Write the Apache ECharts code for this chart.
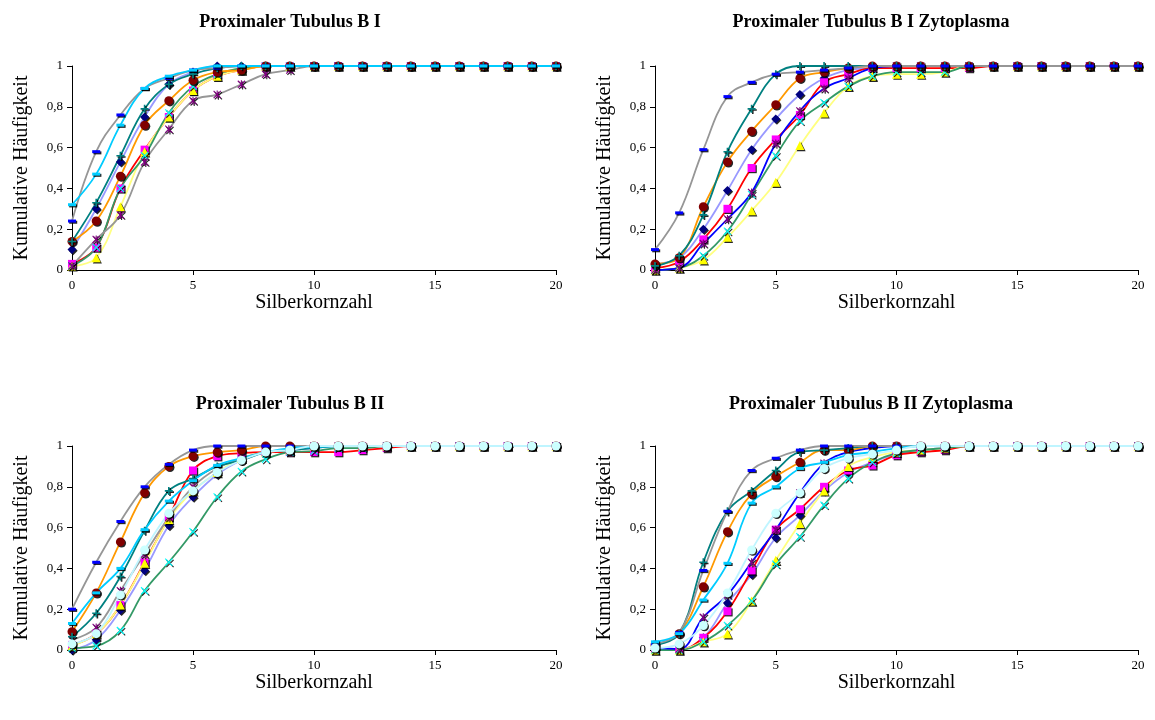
<!DOCTYPE html>
<html>
<head>
<meta charset="utf-8">
<script src="https://cdn.jsdelivr.net/npm/echarts@6/dist/echarts.min.js"></script>
<style>html,body{margin:0;padding:0;background:#fff}#c{width:1155px;height:720px}</style>
</head>
<body>
<div id="c"></div>
<script>
const xValues = [0,1,2,3,4,5,6,7,8,9,10,11,12,13,14,15,16,17,18,19,20];
const panelTitles = ['Proximaler Tubulus B I','Proximaler Tubulus B I Zytoplasma','Proximaler Tubulus B II','Proximaler Tubulus B II Zytoplasma'];
const xAxisName = 'Silberkornzahl';
const yAxisName = 'Kumulative Häufigkeit';
const xTicks = [0,5,10,15,20];
const yTicks = [0,0.2,0.4,0.6,0.8,1];

// Panel 1: Proximaler Tubulus B I
const bI_diamond  = [0.10,0.30,0.53,0.75,0.91,0.97,1,1,1,1,1,1,1,1,1,1,1,1,1,1,1];
const bI_square   = [0.03,0.11,0.40,0.59,0.75,0.88,0.95,0.98,1,1,1,1,1,1,1,1,1,1,1,1,1];
const bI_triangle = [0.02,0.06,0.31,0.58,0.75,0.88,0.95,0.98,1,1,1,1,1,1,1,1,1,1,1,1,1];
const bI_cross    = [0.02,0.11,0.40,0.56,0.77,0.90,0.96,0.99,1,1,1,1,1,1,1,1,1,1,1,1,1];
const bI_star     = [0.02,0.15,0.27,0.53,0.69,0.83,0.86,0.91,0.96,0.98,1,1,1,1,1,1,1,1,1,1,1];
const bI_circle   = [0.14,0.24,0.46,0.71,0.83,0.93,0.97,0.98,1,1,1,1,1,1,1,1,1,1,1,1,1];
const bI_plus     = [0.14,0.33,0.56,0.79,0.91,0.96,0.99,1,1,1,1,1,1,1,1,1,1,1,1,1,1];
const bI_dash     = [0.24,0.58,0.76,0.89,0.94,0.98,0.99,1,1,1,1,1,1,1,1,1,1,1,1,1,1];
const bI_cyanDash = [0.32,0.47,0.71,0.89,0.95,0.98,1,1,1,1,1,1,1,1,1,1,1,1,1,1,1];

// Panel 2: Proximaler Tubulus B I Zytoplasma
const bIZ_diamond  = [0.03,0.06,0.20,0.39,0.59,0.74,0.86,0.94,0.98,0.99,1,1,1,1,1,1,1,1,1,1,1];
const bIZ_square   = [0.01,0.04,0.15,0.30,0.50,0.64,0.76,0.92,0.96,0.99,0.99,0.99,0.99,0.99,1,1,1,1,1,1,1];
const bIZ_triangle = [0,0.01,0.05,0.16,0.29,0.43,0.61,0.77,0.90,0.95,0.96,0.96,0.97,1,1,1,1,1,1,1,1];
const bIZ_cross    = [0,0.01,0.07,0.19,0.37,0.56,0.73,0.82,0.90,0.95,0.97,0.97,0.97,1,1,1,1,1,1,1,1];
const bIZ_star     = [0,0.01,0.13,0.25,0.38,0.62,0.78,0.89,0.94,0.99,1,1,1,1,1,1,1,1,1,1,1];
const bIZ_circle   = [0.03,0.06,0.31,0.53,0.68,0.81,0.94,0.97,0.99,1,1,1,1,1,1,1,1,1,1,1,1];
const bIZ_plus     = [0.02,0.07,0.27,0.58,0.79,0.96,1,1,1,1,1,1,1,1,1,1,1,1,1,1,1];
const bIZ_dash     = [0.10,0.28,0.59,0.85,0.92,0.96,0.97,0.98,0.99,1,1,1,1,1,1,1,1,1,1,1,1];

// Panel 3: Proximaler Tubulus B II
const bII_diamond     = [0,0.05,0.195,0.39,0.61,0.75,0.86,0.93,0.97,0.98,0.99,1,1,1,1,1,1,1,1,1,1];
const bII_square      = [0.025,0.08,0.22,0.43,0.65,0.88,0.95,0.965,0.97,0.97,0.97,0.97,0.98,0.99,1,1,1,1,1,1,1];
const bII_triangle    = [0.02,0.08,0.22,0.425,0.64,0.78,0.87,0.94,0.97,0.98,1,1,1,1,1,1,1,1,1,1,1];
const bII_cross       = [0.01,0.02,0.095,0.29,0.43,0.58,0.75,0.875,0.935,0.97,0.975,0.99,0.99,1,1,1,1,1,1,1,1];
const bII_star        = [0.05,0.11,0.29,0.47,0.65,0.80,0.89,0.94,0.97,0.98,1,1,1,1,1,1,1,1,1,1,1];
const bII_circle      = [0.09,0.28,0.53,0.77,0.90,0.95,0.97,0.98,1,1,1,1,1,1,1,1,1,1,1,1,1];
const bII_plus        = [0.065,0.18,0.36,0.585,0.78,0.84,0.90,0.93,0.97,0.98,0.99,1,1,1,1,1,1,1,1,1,1];
const bII_dash        = [0.20,0.43,0.63,0.80,0.91,0.98,1,1,1,1,1,1,1,1,1,1,1,1,1,1,1];
const bII_cyanDash    = [0.13,0.28,0.40,0.59,0.73,0.83,0.905,0.94,0.97,0.99,0.995,1,1,1,1,1,1,1,1,1,1];
const bII_lightCircle = [0.03,0.08,0.27,0.49,0.67,0.78,0.87,0.93,0.97,0.98,1,1,1,1,1,1,1,1,1,1,1];

// Panel 4: Proximaler Tubulus B II Zytoplasma
const bIIZ_diamond     = [0.005,0.005,0.06,0.23,0.37,0.55,0.66,0.78,0.87,0.92,0.96,0.98,0.99,1,1,1,1,1,1,1,1];
const bIIZ_square      = [0,0,0.06,0.19,0.39,0.59,0.69,0.80,0.88,0.905,0.955,0.97,0.98,1,1,1,1,1,1,1,1];
const bIIZ_triangle    = [0,0,0.04,0.08,0.24,0.44,0.62,0.78,0.90,0.945,0.97,0.98,0.99,1,1,1,1,1,1,1,1];
const bIIZ_cross       = [0,0,0.04,0.12,0.24,0.42,0.555,0.71,0.84,0.92,0.965,0.98,0.99,1,1,1,1,1,1,1,1];
const bIIZ_star        = [0.01,0.005,0.16,0.27,0.43,0.59,0.77,0.915,0.97,0.99,1,1,1,1,1,1,1,1,1,1,1];
const bIIZ_circle      = [0.025,0.08,0.31,0.58,0.765,0.85,0.92,0.98,0.98,1,1,1,1,1,1,1,1,1,1,1,1];
const bIIZ_plus        = [0.025,0.08,0.43,0.68,0.78,0.88,0.97,0.98,0.99,1,1,1,1,1,1,1,1,1,1,1,1];
const bIIZ_dash        = [0.03,0.085,0.39,0.68,0.88,0.94,0.98,1,1,1,1,1,1,1,1,1,1,1,1,1,1];
const bIIZ_cyanDash    = [0.04,0.08,0.245,0.425,0.72,0.80,0.89,0.92,0.955,0.97,0.99,1,1,1,1,1,1,1,1,1,1];
const bIIZ_lightCircle = [0.01,0.03,0.12,0.28,0.49,0.67,0.77,0.89,0.94,0.96,0.98,1,1,1,1,1,1,1,1,1,1];

// marker styles
const xPath = 'path://M0,1 L1,0 L5,4 L9,0 L10,1 L6,5 L10,9 L9,10 L5,6 L1,10 L0,9 L4,5 Z';
const plusPath = 'path://M4,0 L6,0 L6,4 L10,4 L10,6 L6,6 L6,10 L4,10 L4,6 L0,6 L0,4 L4,4 Z';
const starPath = 'path://M0,1 L1,0 L4.3,3.3 L4.3,0 L5.7,0 L5.7,3.3 L9,0 L10,1 L6,5 L10,9 L9,10 L5.7,6.7 L5.7,10 L4.3,10 L4.3,6.7 L1,10 L0,9 L4,5 Z';
const markers = {
  diamond:     {symbol:'diamond', size:9, color:'#000080', line:'#9999FF'},
  square:      {symbol:'rect', size:8, color:'#FF00FF', line:'#FF0000'},
  triangle:    {symbol:'triangle', size:9, color:'#FFFF00', line:'#FFFF80'},
  cross:       {symbol:xPath, size:8, color:'#00FFFF', line:'#339966'},
  star:        {symbol:starPath, size:8, color:'#800080', line:'#969696'},
  circle:      {symbol:'circle', size:9, color:'#800000', line:'#FF9900'},
  plus:        {symbol:plusPath, size:8, color:'#008080', line:'#008080'},
  dash:        {symbol:'rect', size:[8,3], color:'#0000FF', line:'#969696'},
  cyanDash:    {symbol:'rect', size:[8,3], color:'#00CCFF', line:'#00CCFF'},
  lightCircle: {symbol:'circle', size:9, color:'#CCFFFF', line:'#BFF5FF'}
};

const panels = [
  [['diamond',bI_diamond],['square',bI_square],['triangle',bI_triangle],['cross',bI_cross],['star',bI_star],['circle',bI_circle],['plus',bI_plus],['dash',bI_dash],['cyanDash',bI_cyanDash]],
  [['diamond',bIZ_diamond],['square',bIZ_square],['triangle',bIZ_triangle],['cross',bIZ_cross],['star',bIZ_star,'#0000FF'],['circle',bIZ_circle],['plus',bIZ_plus],['dash',bIZ_dash]],
  [['diamond',bII_diamond],['square',bII_square],['triangle',bII_triangle],['cross',bII_cross],['star',bII_star],['circle',bII_circle],['plus',bII_plus],['dash',bII_dash],['cyanDash',bII_cyanDash],['lightCircle',bII_lightCircle]],
  [['diamond',bIIZ_diamond],['square',bIIZ_square],['triangle',bIIZ_triangle],['cross',bIIZ_cross],['star',bIIZ_star,'#0000FF'],['circle',bIIZ_circle],['plus',bIIZ_plus],['dash',bIIZ_dash],['cyanDash',bIIZ_cyanDash],['lightCircle',bIIZ_lightCircle]]
];

const gridPos = [
  {left:72, top:66, width:484, height:204},
  {left:655, top:66, width:483, height:204},
  {left:72, top:446, width:484, height:204},
  {left:655, top:446, width:483, height:204}
];
const titlePos = [{x:285,y:8},{x:866,y:8},{x:285,y:390},{x:866,y:390}];

const FONT = '"Liberation Serif", "Times New Roman", serif';
const axisCol = '#000';

const option = {
  animation:false,
  backgroundColor:'#fff',
  title: panelTitles.map((t,i)=>({text:t, left:titlePos[i].x, top:titlePos[i].y, textAlign:'center',
    textStyle:{fontFamily:FONT, fontWeight:'bold', fontSize:18, color:'#000'}})),
  grid: gridPos.map(g=>Object.assign({containLabel:false}, g)),
  xAxis: gridPos.map((g,i)=>({type:'value', gridIndex:i, min:0, max:20, interval:5,
    name:xAxisName, nameLocation:'middle', nameGap:21,
    nameTextStyle:{fontFamily:FONT, fontSize:20, color:'#000'},
    axisLine:{show:true, onZero:false, lineStyle:{color:axisCol, width:1}},
    axisTick:{show:true, length:5, inside:false, lineStyle:{color:axisCol}},
    axisLabel:{fontFamily:FONT, fontSize:13, color:'#000', margin:9,
      formatter:v=>xTicks.includes(v)?String(v):''},
    splitLine:{show:false}})),
  yAxis: gridPos.map((g,i)=>({type:'value', gridIndex:i, min:0, max:1, interval:0.2,
    name:yAxisName, nameLocation:'middle', nameGap:40,
    nameTextStyle:{fontFamily:FONT, fontSize:20, color:'#000'},
    axisLine:{show:true, lineStyle:{color:axisCol, width:1}},
    axisTick:{show:true, length:5, inside:false, lineStyle:{color:axisCol}},
    axisLabel:{fontFamily:FONT, fontSize:13, color:'#000', margin:9,
      formatter:v=>{const t=yTicks.find(k=>Math.abs(k-v)<1e-9); return t===undefined?'':String(+t.toFixed(1)).replace('.',',');}},
    splitLine:{show:false}})),
  series: []
};

panels.forEach((list,pi)=>{
  list.forEach(([key,vals,lineOverride])=>{
    const m = markers[key];
    option.series.push({
      type:'line', xAxisIndex:pi, yAxisIndex:pi, name:key,
      data: xValues.map((x,k)=>[x, vals[k]]),
      smooth:0.4,
      symbol:m.symbol, symbolSize:m.size, showSymbol:true,
      lineStyle:{color:lineOverride||m.line, width:1.8},
      itemStyle:{color:m.color, borderColor:'rgba(0,0,0,0)', borderWidth:0,
        shadowColor:'rgba(0,0,0,0.85)', shadowOffsetX:1.2, shadowOffsetY:1.2, shadowBlur:0},
      emphasis:{disabled:true}
    });
  });
});

const chart = echarts.init(document.getElementById('c'), null, {renderer:'canvas'});
chart.setOption(option);
</script>
</body>
</html>
